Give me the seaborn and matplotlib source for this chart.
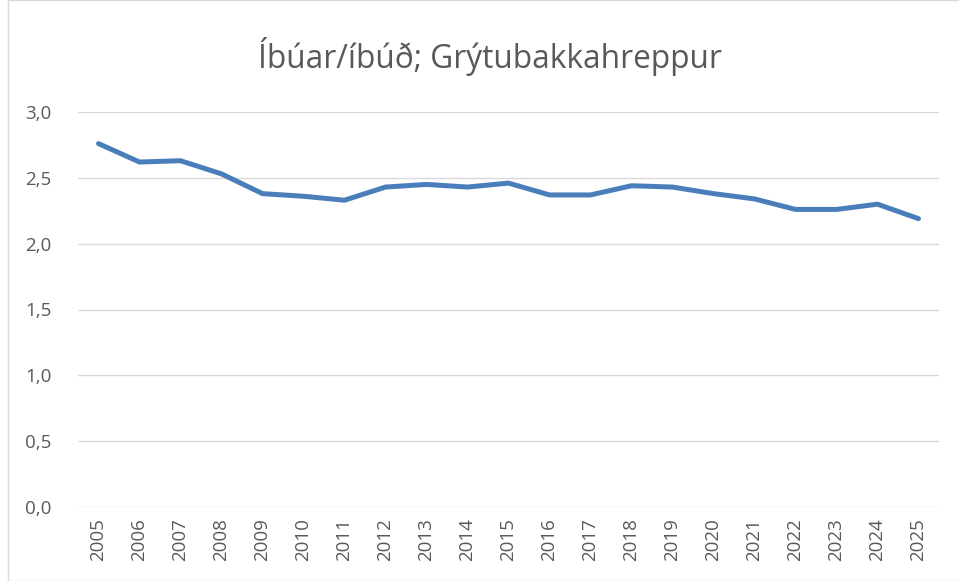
import matplotlib
matplotlib.use("Agg")
import matplotlib.pyplot as plt
import matplotlib.ticker as mticker
import seaborn as sns
import pandas as pd

# --- DATA ---
years = [str(y) for y in range(2005, 2026)]
residents_per_dwelling = [2.76, 2.62, 2.63, 2.53, 2.38, 2.36, 2.33, 2.43, 2.45, 2.43,
                          2.46, 2.37, 2.37, 2.44, 2.43, 2.38, 2.34, 2.26, 2.26, 2.30, 2.19]
title = "Íbúar/íbúð; Grýtubakkahreppur"
y_ticks = [0.0, 0.5, 1.0, 1.5, 2.0, 2.5, 3.0]

sns.set_theme(style="white")
plt.rcParams['font.family'] = ['Open Sans', 'DejaVu Sans']

df = pd.DataFrame({'year': years, 'value': residents_per_dwelling})

fig = plt.figure(figsize=(9.59, 5.81), dpi=100)
ax = fig.add_axes([78 / 959, 1 - 507 / 581, (939 - 78) / 959, (507 - 112) / 581])

sns.lineplot(data=df, x='year', y='value', ax=ax, color='#4a7ebb', linewidth=3.6,
             solid_capstyle='round', solid_joinstyle='round', sort=False)

ax.set_ylim(0, 3.0)
ax.set_xlim(-0.5, len(years) - 0.5)
ax.set_yticks(y_ticks)
ax.yaxis.set_major_formatter(mticker.FuncFormatter(lambda v, p: f"{v:.1f}".replace('.', ',')))
ax.grid(axis='y', color='#d9d9d9', linewidth=1)
ax.set_axisbelow(True)
for s in ax.spines.values():
    s.set_visible(False)
ax.tick_params(axis='x', labelrotation=90, labelsize=13.5, colors='#595959', length=0, pad=8)
ax.tick_params(axis='y', labelsize=13.5, colors='#595959', length=0, pad=19)
ax.set_xlabel("")
ax.set_ylabel("")

fig.text(490 / 959, 1 - 56 / 581, title, ha='center', va='center', fontsize=22.8, color='#595959')

# chart border
fig.patches.append(plt.Rectangle((8 / 959, 0), 1, 1, transform=fig.transFigure,
                                 fill=False, edgecolor='#d9d9d9', linewidth=1))

fig.savefig("out.png", dpi=100)
